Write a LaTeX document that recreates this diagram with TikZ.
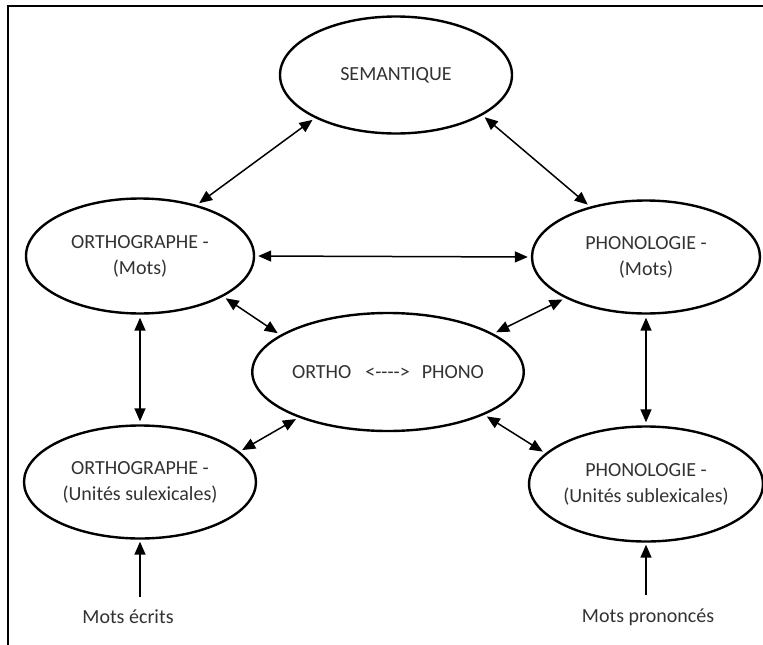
\documentclass[tikz,border=0pt]{standalone}
\usepackage{fontspec}
\setmainfont{Carlito}
\usetikzlibrary{shapes.geometric}
\usetikzlibrary{arrows.meta}
\definecolor{gris1}{RGB}{50, 50, 50}
\newcommand{\trait}{-\kern0pt}

\begin{document}
\begin{tikzpicture}[x=1pt, y=-1pt, >={Triangle[length=13pt,width=11pt]},
  bulle/.style={ellipse, draw, line width=2.4pt, minimum width=230pt, minimum height=115pt,
    inner sep=0pt, align=center, text=gris1, font=\fontsize{20}{26}\selectfont},
  fleche/.style={<->, line width=1.5pt, shorten <=3pt, shorten >=3pt},
  libre/.style={text=gris1, font=\fontsize{20}{24}\selectfont}]
  \useasboundingbox (0,0) rectangle (763,645);
  \draw[line width=2pt] (8,645) -- (8,6) -- (763,6);

  \node[bulle, minimum width=232pt, minimum height=117pt] (sem) at (396,75) {SEMANTIQUE};
  \node[bulle, minimum width=228pt] (om) at (140,256) {ORTHOGRAPHE -\\(Mots)};
  \node[bulle, minimum width=228pt, minimum height=113pt] (pm) at (646,257) {PHONOLOGIE -\\(Mots)};
  \node[bulle, minimum width=227pt, minimum height=118pt] (op) at (388,372)
    {ORTHO\hspace{14pt}<\trait\trait\trait\trait>\hspace{12pt}PHONO};
  \node[bulle, minimum width=232pt, minimum height=113pt] (os) at (140,482) {ORTHOGRAPHE -\\(Unités sulexicales)};
  \node[bulle, minimum width=233pt] (ps) at (646,484) {PHONOLOGIE -\\(Unités sublexicales)};

  \node[libre] (ecrits) at (128,617) {Mots écrits};
  \node[libre] (prononces) at (648,617) {Mots prononcés};

  \foreach \from/\to in {sem.208/om.42, sem.335/pm.138, om.east/pm.west, om.334/op.161,
    pm.207/op.20, om.south/os.north, pm.south/ps.north, op.207/os.17, op.336/ps.163}
   \draw[fleche] (\from) -- (\to);
  \draw[->, line width=1.5pt, shorten <=10pt, shorten >=2pt] (ecrits.north -| os.south) -- (os.south);
  \draw[->, line width=1.5pt, shorten <=10pt, shorten >=2pt] (prononces.north -| ps.south) -- (ps.south);
\end{tikzpicture}
\end{document}
